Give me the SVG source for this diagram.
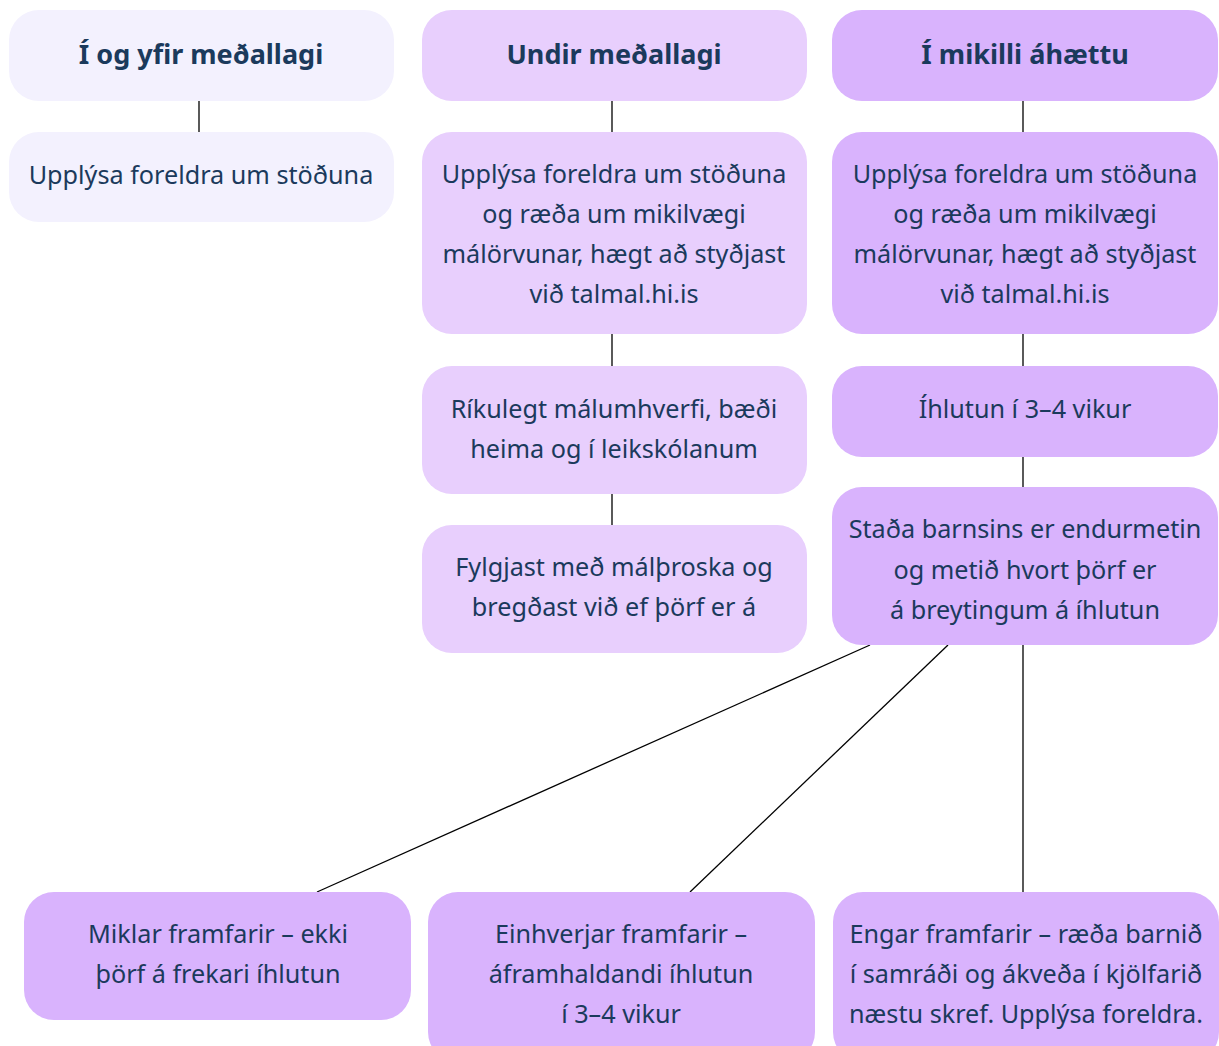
<svg xmlns="http://www.w3.org/2000/svg" width="1219" height="1046" viewBox="0 0 1219 1046">
<style>
.c1{fill:#F3F1FE}
.c2{fill:#E8CFFD}
.c3{fill:#D9B3FD}
text{font-family:"Noto Sans","Open Sans",sans-serif;font-size:25.2px;fill:#1B3A5C;text-anchor:middle}
.h{font-weight:bold;font-size:27px}
.ln{stroke:#000;stroke-width:1.3;fill:none}
</style>
<rect width="1219" height="1046" fill="#fff"/>
<g id="connectors">
<line class="ln" x1="199" y1="101" x2="199" y2="132"/>
<line class="ln" x1="612" y1="101" x2="612" y2="132"/>
<line class="ln" x1="612" y1="334" x2="612" y2="366"/>
<line class="ln" x1="612" y1="494" x2="612" y2="525"/>
<line class="ln" x1="1023" y1="101" x2="1023" y2="132"/>
<line class="ln" x1="1023" y1="334" x2="1023" y2="366"/>
<line class="ln" x1="1023" y1="457" x2="1023" y2="487"/>
<line class="ln" x1="870" y1="645" x2="317" y2="892"/>
<line class="ln" x1="948" y1="645" x2="690" y2="892"/>
<line class="ln" x1="1023" y1="645" x2="1023" y2="892"/>
</g>
<g id="h1"><rect class="c1" x="9" y="10" width="385" height="91" rx="30"/><text class="h" x="201" y="64">Í og yfir meðallagi</text></g>
<g id="h2"><rect class="c2" x="422" y="10" width="385" height="91" rx="30"/><text class="h" x="614" y="64">Undir meðallagi</text></g>
<g id="h3"><rect class="c3" x="832" y="10" width="386" height="91" rx="30"/><text class="h" x="1025" y="64">Í mikilli áhættu</text></g>
<g id="n1a"><rect class="c1" x="9" y="132" width="385" height="90" rx="30"/><text x="201" y="184">Upplýsa foreldra um stöðuna</text></g>
<g id="n2a"><rect class="c2" x="422" y="132" width="385" height="202" rx="30"/>
<text x="614" y="183">Upplýsa foreldra um stöðuna</text>
<text x="614" y="223">og ræða um mikilvægi</text>
<text x="614" y="263">málörvunar, hægt að styðjast</text>
<text x="614" y="303">við talmal.hi.is</text></g>
<g id="n2b"><rect class="c2" x="422" y="366" width="385" height="128" rx="30"/>
<text x="614" y="418">Ríkulegt málumhverfi, bæði</text>
<text x="614" y="458">heima og í leikskólanum</text></g>
<g id="n2c"><rect class="c2" x="422" y="525" width="385" height="128" rx="30"/>
<text x="614" y="576">Fylgjast með málþroska og</text>
<text x="614" y="616">bregðast við ef þörf er á</text></g>
<g id="n3a"><rect class="c3" x="832" y="132" width="386" height="202" rx="30"/>
<text x="1025" y="183">Upplýsa foreldra um stöðuna</text>
<text x="1025" y="223">og ræða um mikilvægi</text>
<text x="1025" y="263">málörvunar, hægt að styðjast</text>
<text x="1025" y="303">við talmal.hi.is</text></g>
<g id="n3b"><rect class="c3" x="832" y="366" width="386" height="91" rx="30"/>
<text x="1025" y="418">Íhlutun í 3–4 vikur</text></g>
<g id="n3c"><rect class="c3" x="832" y="487" width="386" height="158" rx="30"/>
<text x="1025" y="538">Staða barnsins er endurmetin</text>
<text x="1025" y="579">og metið hvort þörf er</text>
<text x="1025" y="619">á breytingum á íhlutun</text></g>
<g id="b1"><rect class="c3" x="24" y="892" width="387" height="128" rx="30"/>
<text x="218" y="943">Miklar framfarir – ekki</text>
<text x="218" y="983">þörf á frekari íhlutun</text></g>
<g id="b2"><rect class="c3" x="428" y="892" width="387" height="170" rx="30"/>
<text x="621" y="943">Einhverjar framfarir –</text>
<text x="621" y="983">áframhaldandi íhlutun</text>
<text x="621" y="1023">í 3–4 vikur</text></g>
<g id="b3"><rect class="c3" x="833" y="892" width="386" height="170" rx="30"/>
<text x="1026" y="943">Engar framfarir – ræða barnið</text>
<text x="1026" y="983">í samráði og ákveða í kjölfarið</text>
<text x="1026" y="1023">næstu skref. Upplýsa foreldra.</text></g>
</svg>
